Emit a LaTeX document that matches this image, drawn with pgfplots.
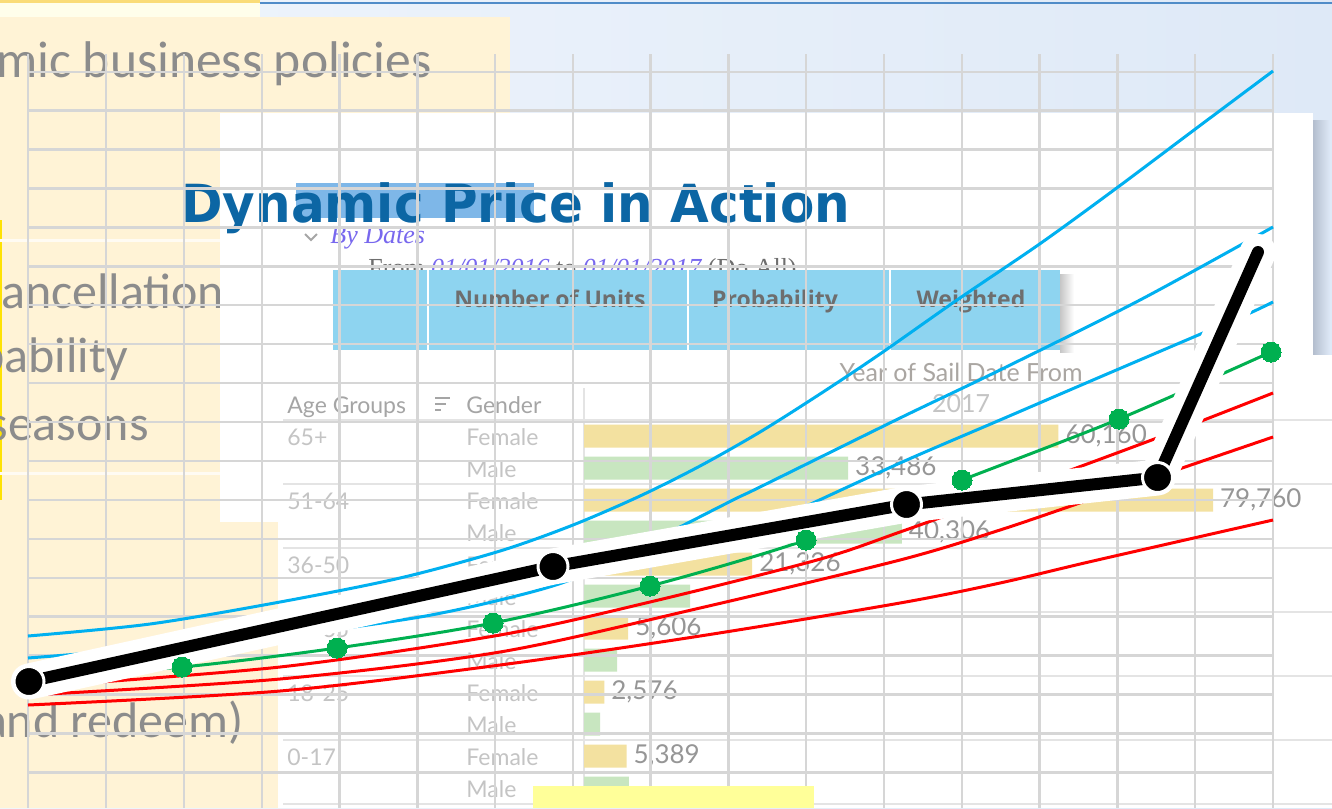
\documentclass[border=0pt]{standalone}
\usepackage{pgfplots}
\pgfplotsset{compat=1.18}
\usepackage{fontspec}
\setmainfont{Lato}
\newfontfamily\leftfont{Carlito}
\newfontfamily\titlefont{DejaVu Sans}
\newfontfamily\serfont{Liberation Serif}
\newfontfamily\headfont{Open Sans}
\newfontfamily\tabfont{Lato}

\definecolor{bgA}{RGB}{240,245,252}
\definecolor{bgB}{RGB}{222,233,247}
\definecolor{cream}{RGB}{255,243,214}
\definecolor{leftgray}{RGB}{140,140,140}
\definecolor{titleblue}{RGB}{12,102,164}
\definecolor{selblue}{RGB}{126,183,232}
\definecolor{bandblue}{RGB}{142,212,240}
\definecolor{headgray}{RGB}{110,110,110}
\definecolor{datepurple}{RGB}{120,104,238}
\definecolor{fromgray}{RGB}{110,110,110}
\definecolor{gridgray}{RGB}{214,214,214}
\definecolor{femgold}{RGB}{243,225,160}
\definecolor{malegreen}{RGB}{200,230,192}
\definecolor{cyanc}{RGB}{0,176,240}
\definecolor{redc}{RGB}{255,0,0}
\definecolor{greenc}{RGB}{0,176,80}
\definecolor{yelbox}{RGB}{255,255,153}
\definecolor{hdrgray}{RGB}{170,166,162}
\definecolor{agegray}{RGB}{165,165,165}
\definecolor{rowgray}{RGB}{196,196,196}
\definecolor{valgray}{RGB}{150,150,150}
\definecolor{sepgray}{RGB}{228,228,228}
\definecolor{shadowgray}{RGB}{180,190,206}
\definecolor{topblue}{RGB}{80,140,200}
\definecolor{topyellow}{RGB}{250,220,120}

\pgfplotsset{
  box/.style={scale only axis, width=666pt, height=404pt, at={(0pt,0pt)}, anchor=north west,
    ymin=0, ymax=808, y dir=reverse, hide axis},
  canvas/.style={box, xmin=0, xmax=1332},
  vallabel/.style={nodes near coords={\pgfmathprintnumber[fixed,precision=0,1000 sep={,},assume math mode=true]{\pgfplotspointmeta}},
    nodes near coords style={text=valgray, font=\tabfont\fontsize{13}{15}\selectfont, anchor=west}},
}
\tikzset{
  lefttxt/.style={inner sep=0pt, text=leftgray, font=\leftfont\fontsize{25}{30}\selectfont},
  rowtxt/.style={inner sep=0pt, anchor=base west, text=rowgray, font=\tabfont\fontsize{11.5}{14}\selectfont},
  headtxt/.style={inner sep=0pt, anchor=base, text=headgray, font=\headfont\bfseries\fontsize{11.5}{14}\selectfont},
}

\begin{document}
\begin{tikzpicture}
% ---------------- background slide layers ----------------
\begin{axis}[canvas]
  \shade[left color=bgA, right color=bgB] (0,0) rectangle (1332,808);
  \fill[white!92!yellow] (0,0) rectangle (260,17);
  \fill[topyellow] (0,0) rectangle (260,3);
  \fill[topblue] (260,2) rectangle (1332,4);
  \fill[cream] (0,17) rectangle (510,808);
  \fill[yellow!85!orange] (0,220) rectangle (2,500);
  \fill[white!70!cream] (0,239) rectangle (220,241.5);
  \fill[white!70!cream] (0,472) rectangle (220,474.5);
  \node[lefttxt, anchor=base east, font=\leftfont\fontsize{25.8}{30}\selectfont] at (432,77) {Dynamic business policies};
  \node[lefttxt, anchor=base west] at (-26,308) {Cancellation};
  \node[lefttxt, anchor=base east] at (129,372) {probability};
  \node[lefttxt, anchor=base east] at (149,440) {seasons};
  \node[lefttxt, anchor=base east] at (244,737) {and redeem)};
  % slide box
  \shade[left color=shadowgray, right color=bgB] (1313,120) rectangle (1330,360);
  \fill[white] (220,113) rectangle (1313,522);
  \fill[selblue] (296,183) rectangle (534,218);
  \draw[gray!70, line width=1pt] (305,234) -- (311,240) -- (317,234);
  \node[inner sep=0pt, anchor=base west, text=datepurple, font=\serfont\itshape\fontsize{13}{15}\selectfont] at (330,243) {By Dates};
  \node[inner sep=0pt, anchor=base west, font=\serfont\fontsize{13}{15}\selectfont] at (368,276)
    {\textcolor{fromgray}{From} \textcolor{datepurple}{\itshape 01/01/2016} \textcolor{fromgray}{to} \textcolor{datepurple}{\itshape 01/01/2017} \textcolor{fromgray}{(Do All)}};
  \shade[left color=gray!45, right color=white] (1060,274) rectangle (1074,352);
  \fill[bandblue] (333,270) rectangle (1060,350);
  \fill[white] (427,270) rectangle (429,350);
  \fill[white] (687,270) rectangle (689,350);
  \fill[white] (889,270) rectangle (891,350);
  \node[headtxt] at (550,307) {Number of Units};
  \node[headtxt] at (775,307) {Probability};
  \node[headtxt] at (971,307) {Weighted};
  \node[inner sep=0pt, anchor=base west, text=titleblue, font=\titlefont\bfseries\fontsize{25}{30}\selectfont, yscale=1.05] at (181,222) {Dynamic Price in Action};
  % table screenshot
  \fill[white] (278,355) rectangle (1332,808);
  \draw[sepgray, line width=1pt] (283,420) -- (1332,420);
  \draw[sepgray, line width=1pt] (283,484) -- (1332,484);
  \draw[sepgray, line width=1pt] (283,548) -- (1332,548);
  \draw[sepgray, line width=1pt] (283,612) -- (1332,612);
  \draw[sepgray, line width=1pt] (283,676) -- (1332,676);
  \draw[sepgray, line width=1pt] (283,740) -- (1332,740);
  \draw[sepgray, line width=1pt] (283,804) -- (1332,804);
  \draw[sepgray, line width=1pt] (584,388) -- (584,808);
  \node[inner sep=0pt, anchor=base, text=hdrgray, font=\tabfont\fontsize{12.5}{14}\selectfont] at (961,381) {Year of Sail Date From};
  \node[inner sep=0pt, anchor=base, text=rowgray, font=\tabfont\fontsize{12.5}{14}\selectfont] at (961,412) {2017};
  \node[inner sep=0pt, anchor=base west, text=agegray, font=\tabfont\fontsize{11.5}{14}\selectfont] at (287,413) {Age Groups};
  \node[inner sep=0pt, anchor=base west, text=agegray, font=\tabfont\fontsize{11.5}{14}\selectfont] at (466,413) {Gender};
  \draw[agegray, line width=1.3pt] (435,398) -- (450,398) (435,404) -- (446,404) (435,410) -- (441,410);
  \node[rowtxt] at (287,445) {65+};
  \node[rowtxt] at (287,509) {51-64};
  \node[rowtxt] at (287,573) {36-50};
  \node[rowtxt] at (287,637) {26-35};
  \node[rowtxt] at (287,701) {18-25};
  \node[rowtxt] at (287,765) {0-17};
  \node[rowtxt] at (466,445) {Female};
  \node[rowtxt] at (466,477) {Male};
  \node[rowtxt] at (466,509) {Female};
  \node[rowtxt] at (466,541) {Male};
  \node[rowtxt] at (466,573) {Female};
  \node[rowtxt] at (466,605) {Male};
  \node[rowtxt] at (466,637) {Female};
  \node[rowtxt] at (466,669) {Male};
  \node[rowtxt] at (466,701) {Female};
  \node[rowtxt] at (466,733) {Male};
  \node[rowtxt] at (466,765) {Female};
  \node[rowtxt] at (466,797) {Male};
\end{axis}

% ---------------- bar chart (values) ----------------
\begin{axis}[box, xmin=-74053, xmax=94849, xbar, bar width=23, point meta=x, clip=false]
  \addplot[fill=femgold, draw=none, bar shift=0pt, vallabel] coordinates
    {(60160,436) (79760,500) (21326,564) (5606,628) (2576,692) (5389,756)};
  \addplot[fill=malegreen, draw=none, bar shift=0pt, vallabel] coordinates
    {(33486,468) (40306,532)};
  \addplot[fill=malegreen, draw=none, bar shift=0pt] coordinates
    {(13440,596) (4200,660) (2050,724) (5700,788)};
\end{axis}

% ---------------- grid ----------------
\begin{axis}[scale only axis, width=623.25pt, height=377pt, at={(13.75pt,-27pt)}, anchor=north west,
  xmin=27.5, xmax=1274, ymin=54, ymax=808, y dir=reverse,
  xtick={28.3,106.1,183.9,261.7,339.5,417.3,495.0,572.8,650.6,728.4,806.2,884.0,961.8,1039.6,1117.4,1195.2,1273.0},
  ytick={71.7,110.6,149.5,188.5,227.4,266.3,305.2,344.1,383.1,422.0,460.9,499.8,538.7,577.7,616.6,655.5,694.4,733.3,772.3},
  xticklabels={}, yticklabels={}, major tick length=0pt,
  grid=major, major grid style={draw=gridgray, line width=1.2pt},
  axis line style={draw=none}]
  \addplot[draw=none] coordinates {(100,100)};
\end{axis}

% ---------------- curves ----------------
\begin{axis}[canvas, clip=false]
  \fill[yelbox] (533,786) rectangle (814,808);
  \addplot[cyanc, line width=1.5pt, smooth] coordinates
    {(28,636) (150,624) (280,602) (400,578) (500,551) (573,525) (640,496) (700,466) (760,432) (820,394) (880,354) (957,300) (1041,243) (1118,187) (1194,130) (1273,71)};
  \addplot[cyanc, line width=1.5pt, smooth] coordinates
    {(28,658) (150,648) (313,632) (420,617) (500,600) (570,580) (650,542) (733,500) (760,487) (900,418) (1000,370) (1140,300) (1273,227)};
  \addplot[cyanc, line width=1.5pt, smooth] coordinates
    {(785,516) (900,463) (1000,420) (1100,377) (1203,333) (1250,313) (1273,302)};
  \addplot[redc, line width=1.5pt, smooth] coordinates
    {(30,687) (280,667) (500,635) (650,602) (817,560) (900,532) (1000,496) (1157,438) (1273,393)};
  \addplot[redc, line width=1.5pt, smooth] coordinates
    {(30,695) (280,679) (500,652) (700,608) (900,560) (1000,530) (1100,496) (1273,437)};
  \addplot[redc, line width=1.5pt, smooth] coordinates
    {(28,705) (280,691) (500,665) (700,636) (900,603) (1000,583) (1093,561) (1273,520)};
  \addplot[greenc, line width=1.5pt, smooth, mark=*, mark size=5pt, mark options={fill=greenc, draw=greenc, line width=0pt}] coordinates
    {(28,677) (182,667) (337,648) (493,623) (650,586) (806,540) (962,480) (1119,419) (1271,352)};
  \addplot[white, line width=18pt, line cap=round, line join=round] coordinates
    {(29,681.5) (553,566.5) (906.5,504.5) (1157.5,477.5) (1258,252)};
  \addplot[black, line width=6pt, line cap=round, line join=round] coordinates
    {(29,681.5) (553,566.5) (906.5,504.5) (1157.5,477.5) (1258,252)};
  \addplot[only marks, mark=*, mark size=7.5pt, mark options={fill=black, draw=white, line width=1.5pt}] coordinates
    {(29,681.5) (553,566.5) (906.5,504.5) (1157.5,477.5)};
\end{axis}
\pgfresetboundingbox
\path[use as bounding box] (0pt,0pt) rectangle (666pt,-404pt);
\end{tikzpicture}
\end{document}
